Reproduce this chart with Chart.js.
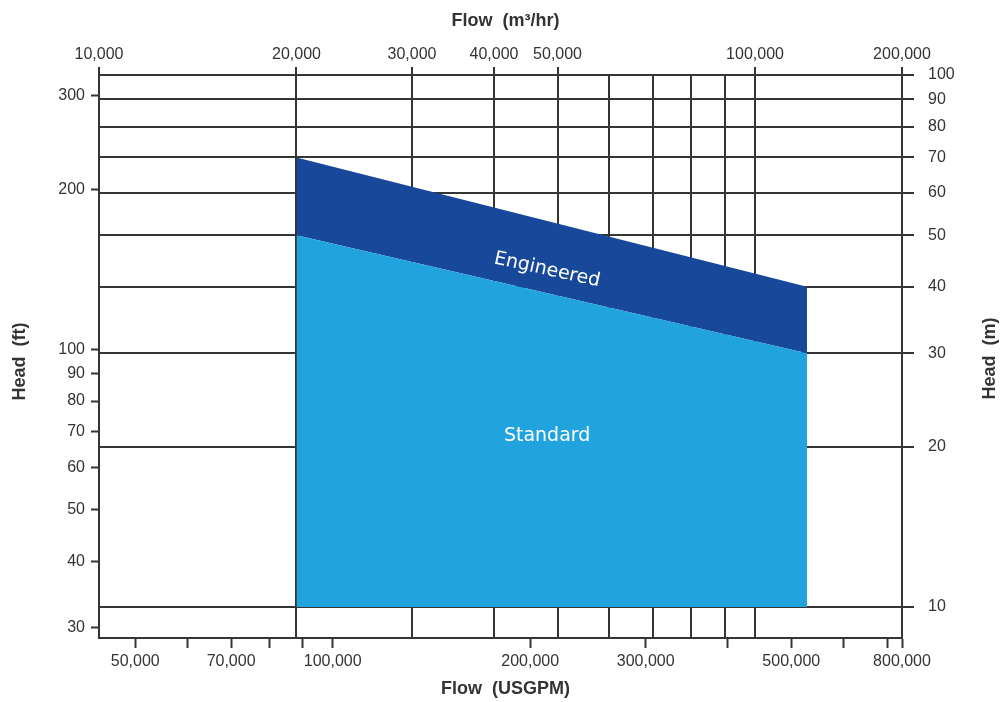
<!DOCTYPE html>
<html>
<head>
<meta charset="utf-8">
<script src="https://cdn.jsdelivr.net/npm/chart.js@4.4.1/dist/chart.umd.min.js"></script>
<style>
  html, body { margin: 0; padding: 0; background: #fff; }
  #wrap { width: 1005px; height: 702px; }
</style>
</head>
<body>
<div id="wrap"><canvas id="headFlowChart" width="1005" height="702"></canvas></div>
<script>
const GPM_PER_M3H = 4.402868;
const FT_PER_M = 3.28084;

// operating envelopes: flow in m3/hr, head in m
const envelopeFlow = [20000, 120000];
const standardHead = [50, 30];
const engineeredHead = [70, 40];
const standardFloor = 10;

// axis ranges (m3/hr and m), the others are converted from these
const flowMin = 10000, flowMax = 167500;
const headMin = 8.745, headMax = 100;

// ticks
const flowM3Ticks = [10000, 20000, 30000, 40000, 50000, 60000, 70000, 80000, 90000, 100000, 200000];
const flowM3Labels = [10000, 20000, 30000, 40000, 50000, 100000, 200000];
const flowGpmTicks = [50000, 60000, 70000, 80000, 90000, 100000, 200000, 300000, 400000, 500000, 600000, 700000, 800000];
const flowGpmLabels = [50000, 70000, 100000, 200000, 300000, 500000, 800000];
const headMTicks = [10, 20, 30, 40, 50, 60, 70, 80, 90, 100];
const headFtTicks = [30, 40, 50, 60, 70, 80, 90, 100, 200, 300];

const lineColor = "#353535";
const textColor = "#333";
const tickFont = { family: "'Liberation Sans', Arial, sans-serif", size: 16 };

// put ticks exactly where we want them, edge ones get clamped to the axis
function setTicks(values, labeled) {
  return scale => {
    scale.ticks = values.map(v => ({
      value: Math.min(Math.max(v, scale.min), scale.max),
      raw: v,
      show: labeled.includes(v)
    }));
  };
}
function tickLabel(value, i, ticks) {
  const t = ticks[i];
  return t.show ? t.raw.toLocaleString("en-US") : "";
}

const textPlugin = {
  id: "envelopeText",
  afterDraw(chart) {
    const { ctx, chartArea: a, scales: { x, y } } = chart;
    ctx.save();
    ctx.fillStyle = textColor;
    ctx.font = "bold 18px 'Liberation Sans', Arial, sans-serif";
    ctx.textAlign = "center";
    ctx.textBaseline = "middle";
    const cx = (a.left + a.right) / 2 + 5;
    const cy = (a.top + a.bottom) / 2;
    ctx.fillText("Flow  (m³/hr)", cx, a.top - 54);
    ctx.fillText("Flow  (USGPM)", cx, a.bottom + 51);

    ctx.save();
    ctx.translate(a.left - 79, cy + 5);
    ctx.rotate(-Math.PI / 2);
    ctx.fillText("Head  (ft)", 0, 0);
    ctx.restore();

    ctx.save();
    ctx.translate(a.right + 88, cy + 2);
    ctx.rotate(-Math.PI / 2);
    ctx.fillText("Head  (m)", 0, 0);
    ctx.restore();

    // region names
    ctx.fillStyle = "#fff";
    ctx.font = "19px 'DejaVu Sans', sans-serif";
    const dx = x.getPixelForValue(envelopeFlow[1]) - x.getPixelForValue(envelopeFlow[0]);
    const dy = y.getPixelForValue(standardHead[1]) - y.getPixelForValue(standardHead[0]);
    ctx.save();
    ctx.translate(x.getPixelForValue(48200), y.getPixelForValue(43));
    ctx.rotate(Math.atan2(dy, dx) - 0.01);
    ctx.fillText("Engineered", 0, 0);
    ctx.restore();
    ctx.fillText("Standard", x.getPixelForValue(48200), y.getPixelForValue(21));
    ctx.restore();
  }
};

new Chart(document.getElementById("headFlowChart"), {
  type: "line",
  data: {
    datasets: [{
      label: "Standard",
      data: envelopeFlow.map((f, i) => ({ x: f, y: standardHead[i] })),
      xAxisID: "x",
      yAxisID: "y",
      borderColor: "rgba(0,0,0,0)",
      borderWidth: 0,
      pointRadius: 0,
      backgroundColor: "#21a3de",
      fill: { value: standardFloor },
    }, {
      label: "Engineered",
      data: envelopeFlow.map((f, i) => ({ x: f, y: engineeredHead[i] })),
      xAxisID: "x",
      yAxisID: "y",
      borderColor: "rgba(0,0,0,0)",
      borderWidth: 0,
      pointRadius: 0,
      backgroundColor: "#17489a",
      fill: 0,
    }]
  },
  options: {
    responsive: false,
    animation: false,
    layout: { padding: 0 },
    plugins: { legend: { display: false }, tooltip: { enabled: false } },
    scales: {
      x: {
        type: "logarithmic",
        position: "top",
        min: flowMin,
        max: flowMax,
        afterBuildTicks: setTicks(flowM3Ticks, flowM3Labels),
        afterFit: s => { s.height = 75; },
        grid: {
          color: lineColor,
          lineWidth: 2,
          tickLength: 8,
          tickWidth: 2,
          tickColor: c => (c.tick && c.tick.show) ? lineColor : "rgba(0,0,0,0)"
        },
        border: { color: lineColor, width: 2 },
        ticks: { autoSkip: false, maxRotation: 0, padding: 3, font: tickFont, color: textColor, callback: tickLabel }
      },
      xg: {
        type: "logarithmic",
        position: "bottom",
        min: flowMin * GPM_PER_M3H,
        max: flowMax * GPM_PER_M3H,
        afterBuildTicks: setTicks(flowGpmTicks, flowGpmLabels),
        afterFit: s => { s.height = 64; },
        grid: { drawOnChartArea: false, tickLength: 10, tickWidth: 2, tickColor: lineColor, color: lineColor },
        border: { color: lineColor, width: 2 },
        ticks: { autoSkip: false, maxRotation: 0, padding: 4, font: tickFont, color: textColor, callback: tickLabel }
      },
      y: {
        type: "logarithmic",
        position: "right",
        min: headMin,
        max: headMax,
        afterBuildTicks: setTicks(headMTicks, headMTicks),
        afterFit: s => { s.width = 103; },
        grid: { color: lineColor, lineWidth: 2, tickLength: 12, tickWidth: 2, tickColor: lineColor },
        border: { color: lineColor, width: 2 },
        ticks: { autoSkip: false, padding: 14, font: tickFont, color: textColor, callback: tickLabel }
      },
      yft: {
        type: "logarithmic",
        position: "left",
        min: headMin * FT_PER_M,
        max: headMax * FT_PER_M,
        afterBuildTicks: setTicks(headFtTicks, headFtTicks),
        afterFit: s => { s.width = 99; },
        grid: { drawOnChartArea: false, tickLength: 8, tickWidth: 2, tickColor: lineColor, color: lineColor },
        border: { color: lineColor, width: 2 },
        ticks: { autoSkip: false, padding: 6, font: tickFont, color: textColor, callback: tickLabel }
      }
    }
  },
  plugins: [textPlugin]
});
</script>
</body>
</html>
